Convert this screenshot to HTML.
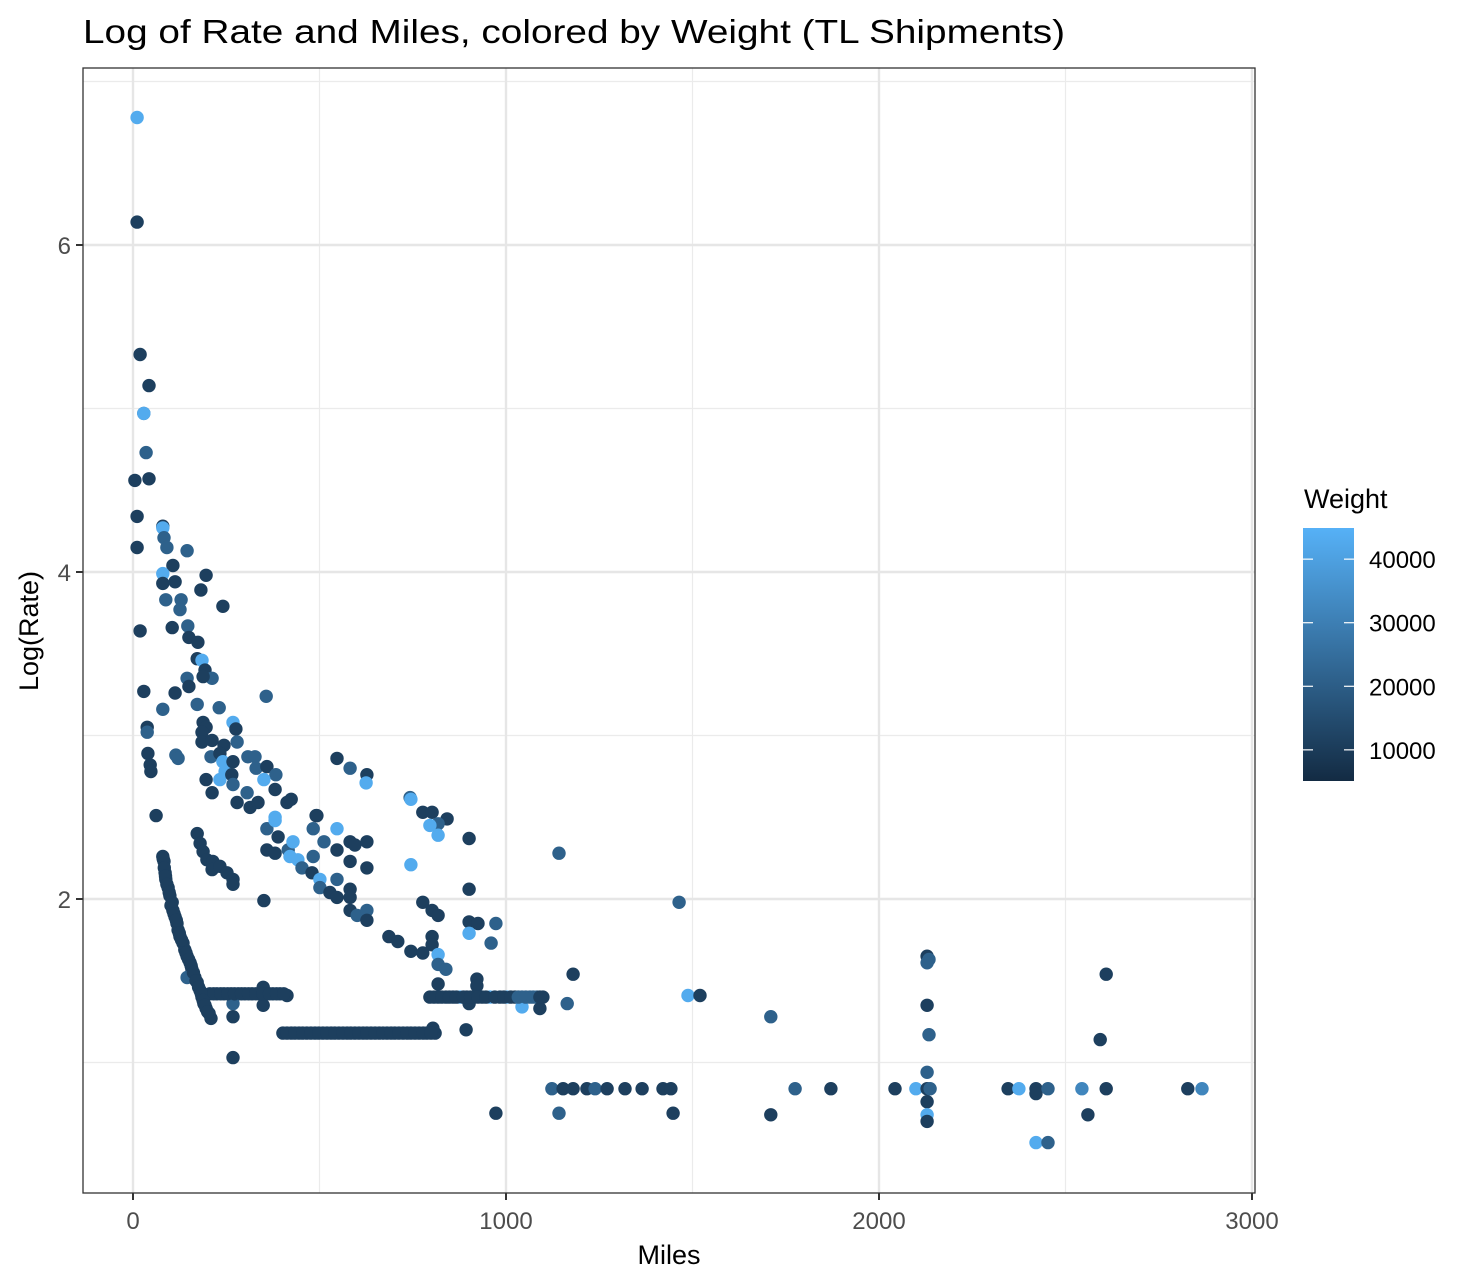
<!DOCTYPE html>
<html><head><meta charset="utf-8"><style>
html,body{margin:0;padding:0;background:#fff;}
svg{display:block;font-family:"Liberation Sans",Arial,sans-serif;}
</style></head><body>
<svg id="chart" width="1474" height="1287" viewBox="0 0 1474 1287" xmlns="http://www.w3.org/2000/svg">
<text x="83" y="43" font-size="33" fill="#000" textLength="982" lengthAdjust="spacingAndGlyphs">Log of Rate and Miles, colored by Weight (TL Shipments)</text>
<g id="grid"></g>
<g id="points"></g>
<rect x="83" y="68" width="1172" height="1125" fill="none" stroke="#333" stroke-width="1.3"/>
<g id="axes"></g>
<text x="669" y="1264" font-size="27" text-anchor="middle" fill="#000">Miles</text>
<text transform="translate(38,631) rotate(-90)" font-size="27" text-anchor="middle" fill="#000">Log(Rate)</text>
<g id="legend">
<text x="1304" y="508" font-size="27" fill="#000">Weight</text>
<defs><linearGradient id="wg" x1="0" y1="1" x2="0" y2="0"><stop offset="0" stop-color="#132B43"/><stop offset="1" stop-color="#56B1F7"/></linearGradient></defs>
<rect x="1303" y="528" width="51" height="253" fill="url(#wg)"/>
</g>
</svg>
<script>
const xTicks=[0,1000,2000,3000];
const xMinor=[500,1500,2500];
const yTicks=[2,4,6];
const yMinor=[1,3,5,7];
const legendTicks=[10000,20000,30000,40000];
const miles=[11,11,19,43,29,29,35,43,5,11,80,80,83,91,11,145,107,80,80,113,196,182,88,129,126,241,19,105,147,150,174,172,185,193,212,145,150,188,29,113,357,80,172,231,188,268,276,196,38,38,185,185,212,279,244,40,46,48,115,121,209,233,241,247,233,268,265,268,196,212,308,327,330,359,383,351,381,306,279,314,335,413,424,381,62,491,547,582,627,625,743,745,777,802,842,818,796,818,901,745,1142,
172,180,188,198,214,212,233,252,268,268,
80,83,86,88,94,99,105,107,113,118,121,126,134,139,145,153,158,166,172,180,185,190,196,204,209,145,351,
206,225,244,263,282,300,319,338,357,375,394,413,349,349,268,268,268,
402,424,445,466,488,509,531,552,574,595,617,638,660,681,702,724,745,767,788,810,804,
359,381,389,359,381,416,429,421,442,453,483,493,483,480,501,501,512,547,547,582,595,627,582,627,547,528,547,582,582,582,601,627,627,777,802,818,686,710,745,777,802,802,818,818,839,818,
901,901,925,973,901,960,922,922,1180,1464,
796,818,839,858,877,895,914,936,957,984,1003,1024,1043,1064,1083,1099,
1043,1091,901,1164,1488,1520,893,
1123,1153,1180,1217,1239,1271,1319,1365,1421,1442,973,1142,1448,
1710,1775,1871,1710,2043,2099,2129,2134,2129,2129,2134,2129,2129,2137,2129,2129,2129,
2609,2593,2346,2375,2421,2421,2453,2544,2609,2560,2421,2453,2828,2866,
413,434,455,477,498,520,541,563,584,606,627,649,670,692,713,735,756,778,799,
216,235,254,272,291,310,329,348,366,385,404,
81,84,87,91,97,102,110,116,124,130,142,149,156,162,169,176,183,188,193,200,
807,828,848,867,886,905,925,946,970,994,1013,1033,1053,1073,1091];
const logRate=[6.78,6.14,5.33,5.14,4.97,4.97,4.73,4.57,4.56,4.34,4.28,4.27,4.21,4.15,4.15,4.13,4.04,3.99,3.93,3.94,3.98,3.89,3.83,3.83,3.77,3.79,3.64,3.66,3.67,3.60,3.57,3.47,3.46,3.40,3.35,3.35,3.30,3.36,3.27,3.26,3.24,3.16,3.19,3.17,3.08,3.08,3.04,3.05,3.05,3.02,3.02,2.96,2.97,2.96,2.94,2.89,2.82,2.78,2.88,2.86,2.87,2.89,2.84,2.78,2.73,2.84,2.76,2.70,2.73,2.65,2.87,2.87,2.80,2.81,2.76,2.73,2.67,2.65,2.59,2.56,2.59,2.59,2.61,2.50,2.51,2.51,2.86,2.80,2.76,2.71,2.62,2.61,2.53,2.53,2.49,2.46,2.45,2.39,2.37,2.21,2.28,
2.40,2.34,2.29,2.24,2.23,2.18,2.20,2.16,2.12,2.09,
2.26,2.23,2.16,2.12,2.07,2.02,1.98,1.93,1.89,1.85,1.81,1.77,1.73,1.69,1.65,1.61,1.57,1.52,1.49,1.44,1.40,1.36,1.33,1.30,1.27,1.52,1.99,
1.42,1.42,1.42,1.42,1.42,1.42,1.42,1.42,1.42,1.42,1.42,1.41,1.46,1.35,1.36,1.28,1.03,
1.18,1.18,1.18,1.18,1.18,1.18,1.18,1.18,1.18,1.18,1.18,1.18,1.18,1.18,1.18,1.18,1.18,1.18,1.18,1.18,1.21,
2.43,2.48,2.38,2.30,2.28,2.30,2.35,2.26,2.24,2.19,2.43,2.51,2.26,2.16,2.12,2.07,2.35,2.43,2.30,2.35,2.33,2.35,2.23,2.19,2.12,2.04,2.01,2.06,2.01,1.93,1.90,1.93,1.87,1.98,1.93,1.90,1.77,1.74,1.68,1.67,1.77,1.72,1.66,1.60,1.57,1.48,
2.06,1.86,1.85,1.85,1.79,1.73,1.51,1.47,1.54,1.98,
1.40,1.40,1.40,1.40,1.40,1.40,1.40,1.40,1.40,1.40,1.40,1.40,1.40,1.40,1.40,1.40,
1.34,1.33,1.36,1.36,1.41,1.41,1.20,
0.84,0.84,0.84,0.84,0.84,0.84,0.84,0.84,0.84,0.84,0.69,0.69,0.69,
1.28,0.84,0.84,0.68,0.84,0.84,1.65,1.63,1.61,1.35,1.17,0.94,0.84,0.84,0.76,0.68,0.64,
1.54,1.14,0.84,0.84,0.84,0.81,0.84,0.84,0.84,0.68,0.51,0.51,0.84,0.84,
1.18,1.18,1.18,1.18,1.18,1.18,1.18,1.18,1.18,1.18,1.18,1.18,1.18,1.18,1.18,1.18,1.18,1.18,1.18,
1.42,1.42,1.42,1.42,1.42,1.42,1.42,1.42,1.42,1.42,1.42,
2.245,2.19,2.14,2.09,2.04,1.96,1.91,1.87,1.79,1.75,1.67,1.63,1.59,1.55,1.50,1.46,1.42,1.38,1.35,1.31,
1.40,1.40,1.40,1.40,1.40,1.40,1.40,1.40,1.40,1.40,1.40,1.40,1.40,1.40,1.40];
const weight=[43000,11000,11000,11000,21000,43000,21000,11000,11000,11000,11000,43000,21000,21000,11000,21000,11000,43000,11000,11000,11000,11000,21000,21000,21000,11000,11000,11000,21000,11000,11000,11000,43000,11000,21000,21000,11000,11000,11000,11000,21000,21000,21000,21000,11000,43000,11000,11000,11000,21000,11000,11000,11000,21000,11000,11000,11000,11000,21000,21000,21000,11000,43000,43000,43000,11000,11000,21000,11000,11000,21000,21000,21000,11000,21000,43000,11000,21000,11000,11000,11000,11000,11000,43000,11000,11000,11000,21000,11000,43000,21000,43000,11000,11000,11000,21000,43000,43000,11000,43000,21000,
11000,11000,11000,11000,11000,11000,11000,11000,11000,11000,
11000,11000,11000,11000,11000,11000,11000,11000,11000,11000,11000,11000,11000,11000,11000,11000,11000,11000,11000,11000,11000,11000,11000,11000,11000,21000,11000,
11000,11000,11000,11000,11000,11000,11000,11000,11000,11000,11000,11000,11000,11000,21000,11000,11000,
11000,11000,11000,11000,11000,11000,11000,11000,11000,11000,11000,11000,11000,11000,11000,11000,11000,11000,11000,11000,11000,
21000,43000,11000,11000,11000,21000,43000,43000,43000,21000,21000,11000,21000,11000,43000,21000,21000,43000,11000,11000,11000,11000,11000,11000,21000,11000,11000,11000,11000,11000,21000,21000,11000,11000,11000,11000,11000,11000,11000,11000,11000,11000,43000,21000,21000,11000,
11000,11000,11000,21000,43000,21000,11000,11000,11000,21000,
11000,11000,11000,11000,43000,11000,11000,11000,43000,11000,43000,11000,21000,21000,21000,11000,
43000,11000,11000,21000,43000,11000,11000,
21000,11000,11000,11000,21000,11000,11000,11000,11000,11000,11000,21000,11000,
21000,21000,11000,11000,11000,43000,11000,21000,21000,11000,21000,21000,11000,21000,11000,43000,11000,
11000,11000,11000,43000,11000,11000,21000,32000,11000,11000,43000,21000,11000,32000,
11000,11000,11000,11000,11000,11000,11000,11000,11000,11000,11000,11000,11000,11000,11000,11000,11000,11000,11000,
11000,11000,11000,11000,11000,11000,11000,11000,11000,11000,11000,
11000,11000,11000,11000,11000,11000,11000,11000,11000,11000,11000,11000,11000,11000,11000,11000,11000,11000,11000,11000,
11000,11000,11000,11000,11000,11000,11000,11000,11000,11000,11000,21000,21000,21000,11000];

const NS='http://www.w3.org/2000/svg';
const L=83,R=1255,T=68,B=1193;
function xs(m){return 133+m*0.373;}
function ys(r){return 1226-r*163.5;}
const wMin=5100,wMax=44900;
const lo=[0x13,0x2B,0x43],hi=[0x56,0xB1,0xF7];
function col(w){let t=(w-wMin)/(wMax-wMin);t=Math.max(0,Math.min(1,t));return 'rgb('+lo.map((c,i)=>Math.round(c+(hi[i]-c)*t)).join(',')+')';}
function lgY(w){return 781-(w-wMin)/(wMax-wMin)*253;}
function mk(tag,attrs,parent){const e=document.createElementNS(NS,tag);for(const k in attrs)e.setAttribute(k,attrs[k]);parent.appendChild(e);return e;}
const grid=document.getElementById('grid'),pts=document.getElementById('points'),axes=document.getElementById('axes'),leg=document.getElementById('legend');
mk('rect',{x:L,y:T,width:R-L,height:B-T,fill:'#fff'},grid);
xMinor.forEach(v=>{const e=mk('line',{x1:xs(v),x2:xs(v),y1:T,y2:B,stroke:'#ebebeb','stroke-width':1.2},grid);

});
yMinor.forEach(v=>{const e=mk('line',{x1:L,x2:R,y1:ys(v),y2:ys(v),stroke:'#ebebeb','stroke-width':1.2},grid);

});
xTicks.forEach(v=>{const e=mk('line',{x1:xs(v),x2:xs(v),y1:T,y2:B,stroke:'#e6e6e6','stroke-width':2.4},grid);


const t=mk('line',{x1:xs(v),x2:xs(v),y1:B,y2:B+7,stroke:'#333','stroke-width':2},axes);


const l=mk('text',{x:xs(v),y:B+36,'font-size':24,'text-anchor':'middle',fill:'#4d4d4d'},axes);l.textContent=v;

});
yTicks.forEach(v=>{const e=mk('line',{x1:L,x2:R,y1:ys(v),y2:ys(v),stroke:'#e6e6e6','stroke-width':2.4},grid);


const t=mk('line',{x1:L-7,x2:L,y1:ys(v),y2:ys(v),stroke:'#333','stroke-width':2},axes);


const l=mk('text',{x:L-12,y:ys(v)+9,'font-size':24,'text-anchor':'end',fill:'#4d4d4d'},axes);l.textContent=v;

});
for(let i=0;i<miles.length;i++){
const c=mk('circle',{cx:xs(miles[i]).toFixed(1),cy:ys(logRate[i]).toFixed(1),r:6.7,fill:col(weight[i])},pts);

}
legendTicks.forEach(v=>{const y=lgY(v);
const a=mk('line',{x1:1303,x2:1313,y1:y,y2:y,stroke:'#fff','stroke-width':1.2},leg);


const b=mk('line',{x1:1344,x2:1354,y1:y,y2:y,stroke:'#fff','stroke-width':1.2},leg);


const l=mk('text',{x:1369,y:y+9,'font-size':24,fill:'#000'},leg);l.textContent=v;

});
</script>
</body></html>
